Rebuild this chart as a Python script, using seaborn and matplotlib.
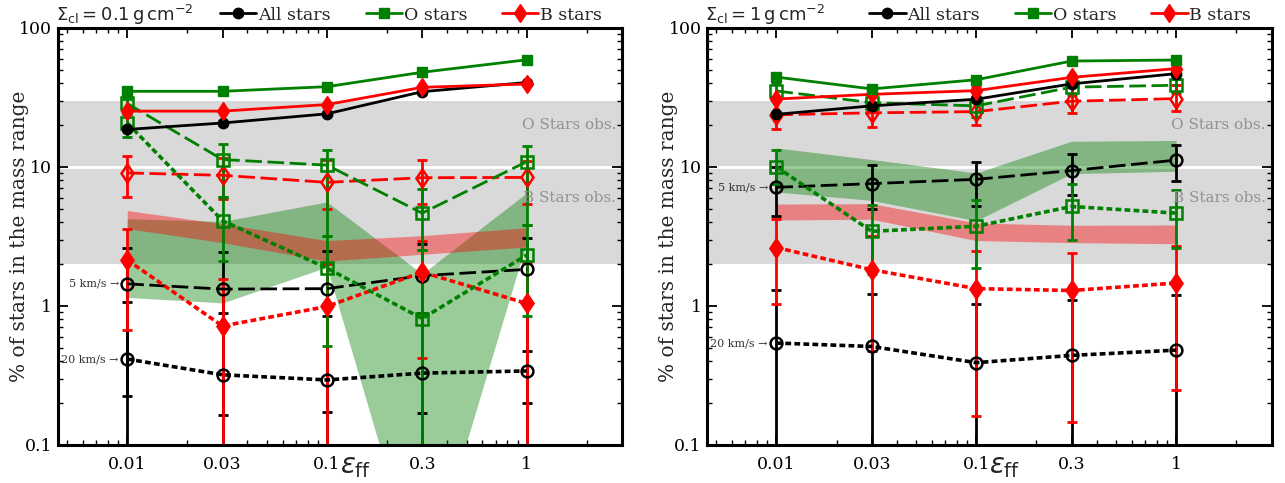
import matplotlib
matplotlib.use("Agg")
import matplotlib.pyplot as plt
import seaborn as sns
from matplotlib.lines import Line2D
from matplotlib.ticker import FixedLocator, FixedFormatter, LogLocator, NullFormatter

sns.set_theme(style="ticks")
plt.rcParams["font.family"] = ["DejaVu Serif", "DejaVu Sans"]
plt.rcParams["mathtext.fontset"] = "dejavusans"

# ---------------- data ----------------
eps = [0.01, 0.03, 0.1, 0.3, 1.0]
eps_ticklabels = ["0.01", "0.03", "0.1", "0.3", "1"]
y_ticks = [0.1, 1, 10, 100]
y_ticklabels = ["0.1", "1", "10", "100"]
series_names = ["All stars", "O stars", "B stars"]
panel_labels = [r"$\Sigma_{\rm cl}=0.1\,{\rm g\,cm^{-2}}$",
                r"$\Sigma_{\rm cl}=1\,{\rm g\,cm^{-2}}$"]
obs_O_range = [10, 30]
obs_B_range = [2, 10]
obs_texts = ["O Stars obs.", "B Stars obs."]
vel_texts = ["5 km/s \u2192", "20 km/s \u2192"]

# Sigma_cl = 0.1 g/cm2
p1_all_tot = [18.6, 20.7, 24.1, 34.8, 40.5]
p1_O_tot = [35.0, 35.0, 37.8, 48.0, 59.0]
p1_B_tot = [25.2, 25.2, 28.1, 37.4, 39.5]
p1_all5 = [1.44, 1.32, 1.33, 1.65, 1.83]
p1_all5_lo = [0.05, 0.05, 0.05, 0.05, 0.05]
p1_all5_hi = [2.63, 2.46, 2.50, 2.77, 3.06]
p1_all20 = [0.414, 0.319, 0.293, 0.328, 0.34]
p1_all20_lo = [0.224, 0.165, 0.173, 0.17, 0.2]
p1_all20_hi = [1.07, 0.89, 0.85, 0.89, 0.47]
p1_B5 = [9.05, 8.7, 7.74, 8.36, 8.4]
p1_B5_lo = [6.08, 5.9, 4.97, 5.4, 5.4]
p1_B5_hi = [12.0, 11.6, 11.3, 11.2, 11.1]
p1_B20 = [2.14, 0.716, 0.99, 1.75, 1.04]
p1_B20_lo = [0.67, 0.05, 0.05, 0.42, 0.05]
p1_B20_hi = [3.58, 1.56, 2.0, 2.92, 2.05]
p1_O5 = [28.6, 11.3, 10.3, 4.65, 10.9]
p1_O5_lo = [24.0, 6.1, 3.2, 2.54, 3.8]
p1_O5_hi = [31.0, 14.6, 13.3, 6.9, 14.2]
p1_O20 = [20.7, 4.1, 1.87, 0.81, 2.32]
p1_O20_lo = [16.5, 2.1, 0.51, 0.05, 0.846]
p1_O20_hi = [24.0, 6.1, 3.2, 2.54, 3.8]
p1_gband_lo = [1.15, 1.05, 1.9, 0.009, 2.9]
p1_gband_hi = [4.24, 4.05, 5.6, 1.7, 6.5]
p1_rband_lo = [3.6, 2.85, 2.1, 2.35, 2.65]
p1_rband_hi = [4.85, 3.9, 2.95, 3.2, 3.65]

# Sigma_cl = 1 g/cm2
p2_all_tot = [23.9, 27.5, 30.7, 39.6, 46.9]
p2_O_tot = [44.3, 36.4, 42.4, 57.8, 58.8]
p2_B_tot = [30.8, 33.3, 35.4, 44.1, 51.0]
p2_all5 = [7.13, 7.58, 8.14, 9.41, 11.2]
p2_all5_lo = [4.42, 4.94, 5.22, 6.3, 7.9]
p2_all5_hi = [10.0, 10.3, 10.8, 12.35, 14.4]
p2_all20 = [0.54, 0.51, 0.39, 0.44, 0.48]
p2_all20_lo = [0.05, 0.05, 0.05, 0.05, 0.05]
p2_all20_hi = [1.29, 1.22, 1.03, 1.1, 1.2]
p2_B5 = [23.7, 24.5, 25.0, 29.7, 31.0]
p2_B5_lo = [18.8, 19.4, 20.0, 24.5, 25.2]
p2_B5_hi = [30.5, 36.0, 37.5, 42.4, 39.0]
p2_B20 = [2.63, 1.82, 1.33, 1.29, 1.46]
p2_B20_lo = [1.03, 0.47, 0.16, 0.145, 0.25]
p2_B20_hi = [4.25, 3.2, 2.49, 2.42, 2.7]
p2_O5 = [35.2, 29.0, 27.5, 37.5, 38.7]
p2_O5_lo = [31.0, 25.0, 23.0, 33.0, 34.0]
p2_O5_hi = [40.0, 33.0, 32.0, 42.0, 43.0]
p2_O20 = [10.0, 3.44, 3.74, 5.19, 4.65]
p2_O20_lo = [7.5, 1.69, 1.87, 3.0, 2.6]
p2_O20_hi = [13.2, 5.3, 5.8, 7.5, 6.8]
p2_gband_lo = [6.6, 5.74, 4.1, 8.95, 9.3]
p2_gband_hi = [13.7, 11.3, 9.05, 15.3, 15.5]
p2_rband_lo = [4.15, 4.2, 2.95, 2.85, 2.8]
p2_rband_hi = [5.4, 5.44, 3.95, 3.8, 3.82]

# ---------------- style ----------------
C_ALL, C_O, C_B = "#000000", "#008000", "#ff0000"
MK = {"all": "o", "O": "s", "B": "d"}
MS_FILLED = {"all": 7.5, "O": 7.5, "B": 9.5}
MS_OPEN = {"all": 8.5, "O": 8.5, "B": 9.5}
COL = {"all": C_ALL, "O": C_O, "B": C_B}
LS5 = (0, (6, 2))
LS20 = (0, (1.6, 0.9))

panels = [
    dict(tot={"all": p1_all_tot, "O": p1_O_tot, "B": p1_B_tot},
         v5={"all": (p1_all5, p1_all5_lo, p1_all5_hi),
             "B": (p1_B5, p1_B5_lo, p1_B5_hi),
             "O": (p1_O5, p1_O5_lo, p1_O5_hi)},
         v20={"all": (p1_all20, p1_all20_lo, p1_all20_hi),
              "B": (p1_B20, p1_B20_lo, p1_B20_hi),
              "O": (p1_O20, p1_O20_lo, p1_O20_hi)},
         gband=(p1_gband_lo, p1_gband_hi), rband=(p1_rband_lo, p1_rband_hi)),
    dict(tot={"all": p2_all_tot, "O": p2_O_tot, "B": p2_B_tot},
         v5={"all": (p2_all5, p2_all5_lo, p2_all5_hi),
             "B": (p2_B5, p2_B5_lo, p2_B5_hi),
             "O": (p2_O5, p2_O5_lo, p2_O5_hi)},
         v20={"all": (p2_all20, p2_all20_lo, p2_all20_hi),
              "B": (p2_B20, p2_B20_lo, p2_B20_hi),
              "O": (p2_O20, p2_O20_lo, p2_O20_hi)},
         gband=(p2_gband_lo, p2_gband_hi), rband=(p2_rband_lo, p2_rband_hi)),
]

fig = plt.figure(figsize=(12.85, 4.83), dpi=100)
axes = [fig.add_axes([0.0451, 0.0791, 0.4389, 0.863]),
        fig.add_axes([0.5502, 0.0791, 0.4393, 0.863])]

for ax, P, plabel in zip(axes, panels, panel_labels):
    ax.set_xscale("log")
    ax.set_yscale("log")
    ax.set_facecolor("white")
    ax.axhspan(obs_O_range[0], obs_O_range[1], color="#d9d9d9", lw=0, zorder=0)
    ax.axhspan(obs_B_range[0], obs_B_range[1], color="#d9d9d9", lw=0, zorder=0)
    ax.axhline(10, color="white", lw=2, zorder=0.5)

    ax.fill_between(eps, P["gband"][0], P["gband"][1], color=C_O, alpha=0.4,
                    lw=0, zorder=1)
    ax.fill_between(eps, P["rband"][0], P["rband"][1], color=C_B, alpha=0.4,
                    lw=0, zorder=1.1)

    # error bars (black, red, green order)
    for key in ["all", "B", "O"]:
        for vset in ["v5", "v20"]:
            v, lo, hi = P[vset][key]
            yerr = [[a - b for a, b in zip(v, lo)], [b - a for a, b in zip(v, hi)]]
            ax.errorbar(eps, v, yerr=yerr, fmt="none", ecolor=COL[key],
                        elinewidth=2, capsize=3.5, capthick=2, zorder=2)

    # lines
    for key in ["all", "B", "O"]:
        v, lo, hi = P["v5"][key]
        sns.lineplot(x=eps, y=v, ax=ax, color=COL[key], lw=2, linestyle=LS5,
                     marker=MK[key], markersize=MS_OPEN[key], mfc="none",
                     mec=COL[key], mew=1.8, errorbar=None, legend=False, zorder=3)
        v, lo, hi = P["v20"][key]
        sns.lineplot(x=eps, y=v, ax=ax, color=COL[key], lw=2.6, linestyle=LS20,
                     marker=MK[key], markersize=MS_OPEN[key] if key != "B" else 9.5,
                     mfc="none" if key != "B" else COL[key],
                     mec=COL[key], mew=1.8, errorbar=None, legend=False, zorder=3)
    for key in ["all", "B", "O"]:
        sns.lineplot(x=eps, y=P["tot"][key], ax=ax, color=COL[key], lw=2,
                     marker=MK[key], markersize=MS_FILLED[key], mfc=COL[key],
                     mec=COL[key], mew=1, errorbar=None, legend=False, zorder=4)

    # annotations
    ax.annotate(vel_texts[0], xy=(eps[0], P["v5"]["all"][0][0]), xytext=(-6, 0),
                textcoords="offset points", ha="right", va="center",
                fontsize=8, color="#333333")
    ax.annotate(vel_texts[1], xy=(eps[0], P["v20"]["all"][0][0]), xytext=(-6, 0),
                textcoords="offset points", ha="right", va="center",
                fontsize=8, color="#333333")
    ax.text(0.99, 20, obs_texts[0], transform=ax.get_yaxis_transform(),
            ha="right", va="center", fontsize=11, color="#929292")
    ax.text(0.99, 6.0, obs_texts[1], transform=ax.get_yaxis_transform(),
            ha="right", va="center", fontsize=11, color="#929292")

    ax.set_xlim(0.0045, 3.0)
    ax.set_ylim(0.1, 100)
    ax.xaxis.set_major_locator(FixedLocator(eps))
    ax.xaxis.set_major_formatter(FixedFormatter(eps_ticklabels))
    ax.xaxis.set_minor_locator(LogLocator(base=10, subs=range(2, 10), numticks=20))
    ax.xaxis.set_minor_formatter(NullFormatter())
    ax.yaxis.set_major_locator(FixedLocator(y_ticks))
    ax.yaxis.set_major_formatter(FixedFormatter(y_ticklabels))
    ax.yaxis.set_minor_locator(LogLocator(base=10, subs=range(2, 10), numticks=20))
    ax.yaxis.set_minor_formatter(NullFormatter())
    ax.tick_params(which="both", direction="in", top=True, right=True,
                   colors="black", labelsize=12.5)
    ax.tick_params(which="major", length=7, width=1.3)
    ax.tick_params(which="minor", length=3.5, width=1)
    ax.tick_params(axis="x", which="major", pad=8)
    ax.tick_params(axis="y", which="major", pad=4)
    for s in ax.spines.values():
        s.set_linewidth(2.2)
        s.set_color("black")
    ax.grid(False)

    ax.set_ylabel("% of stars in the mass range", fontsize=14.5)
    ax.yaxis.set_label_coords(-0.052, 0.5)
    ax.set_xlabel(r"$\varepsilon_{\rm ff}$", fontsize=20)
    ax.xaxis.set_label_coords(0.528, -0.02)

    handles = [Line2D([], [], color=COL[k], lw=2, marker=MK[k],
                      markersize=MS_FILLED[k], mfc=COL[k], mec=COL[k])
               for k in ["all", "O", "B"]]
    ax.legend(handles, series_names, loc="center left",
              bbox_to_anchor=(0.275, 1.031), ncol=3, frameon=False,
              fontsize=12.5, handlelength=2.1, handletextpad=0.1,
              columnspacing=2.0, borderaxespad=0)
    ax.text(-0.003, 1.031, plabel, transform=ax.transAxes, ha="left",
            va="center", fontsize=13)

fig.savefig("out.png", dpi=100)
